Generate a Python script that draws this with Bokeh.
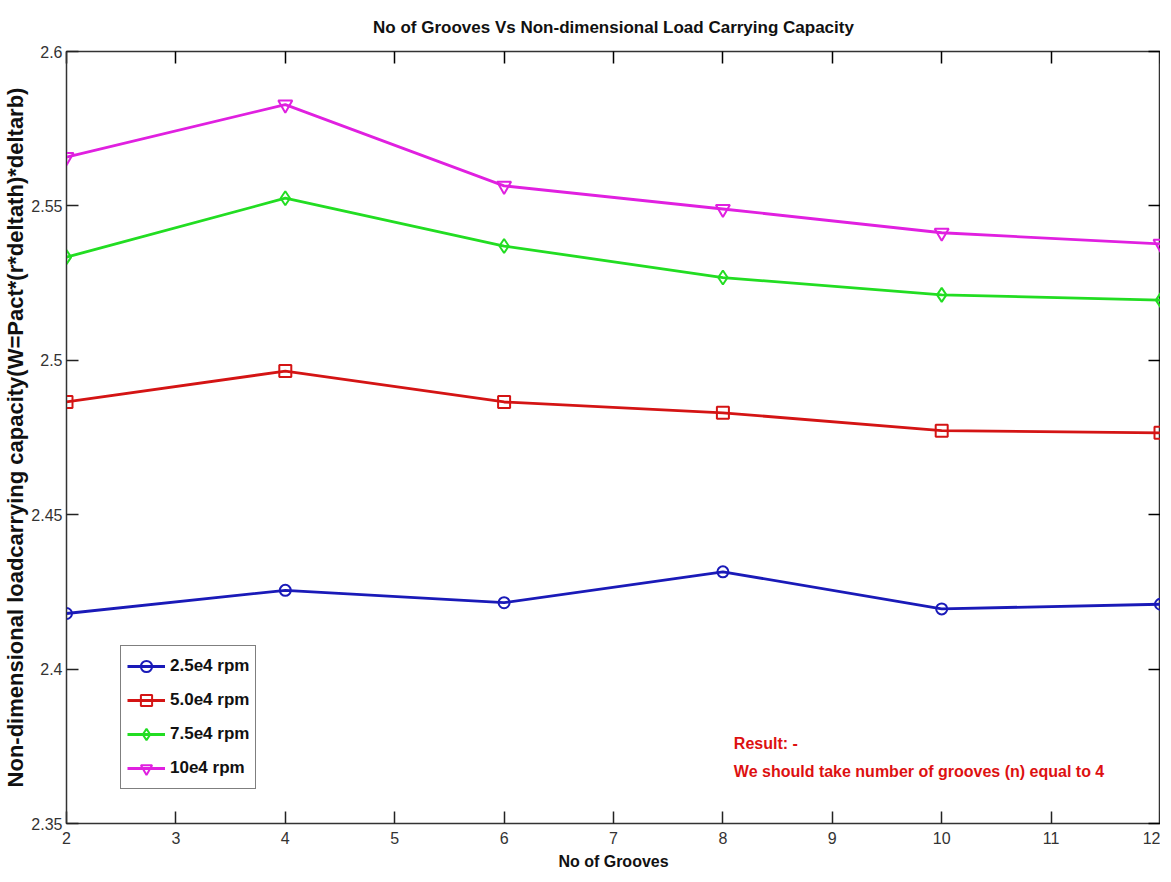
from bokeh.plotting import figure
from bokeh.models import LinearAxis, Legend, LegendItem, Label, FixedTicker, Range1d
from bokeh.embed import file_html
from bokeh.resources import INLINE

grooves = [2, 4, 6, 8, 10, 12]
rpm_25 = [2.418, 2.4255, 2.4215, 2.4315, 2.4195, 2.421]
rpm_50 = [2.4865, 2.4965, 2.4865, 2.483, 2.4772, 2.4765]
rpm_75 = [2.5334, 2.5525, 2.537, 2.5268, 2.5212, 2.5195]
rpm_100 = [2.5658, 2.5828, 2.5565, 2.549, 2.5413, 2.5377]
labels = ["2.5e4 rpm", "5.0e4 rpm", "7.5e4 rpm", "10e4 rpm"]
x_ticks = [2, 3, 4, 5, 6, 7, 8, 9, 10, 11, 12]
y_ticks = [2.35, 2.4, 2.45, 2.5, 2.55, 2.6]

FONT = "Liberation Sans"

p = figure(width=1160, height=872, output_backend="svg", toolbar_location=None,
           x_range=Range1d(2, 12), y_range=Range1d(2.35, 2.6),
           min_border_left=59, min_border_right=0, min_border_top=50, min_border_bottom=43,
           title="No of Grooves Vs Non-dimensional Load Carrying Capacity")
p.title.align = "center"
p.title.text_font = FONT
p.title.text_font_size = "17px"
p.title.text_font_style = "bold"
p.title.text_color = "#111111"
p.title.standoff = 30
p.grid.visible = False
p.outline_line_color = "#333333"
p.outline_line_width = 1.5

for ax in [p.xaxis[0], p.yaxis[0]]:
    ax.major_tick_in = 12
    ax.major_tick_out = 0
    ax.minor_tick_in = 0
    ax.minor_tick_out = 0
    ax.major_label_text_font = FONT
    ax.major_label_text_font_size = "16px"
    ax.major_label_text_color = "#333333"
    ax.axis_line_color = "#333333"
    ax.major_tick_line_color = "#222222"
    ax.major_tick_line_width = 1.5
p.xaxis[0].ticker = FixedTicker(ticks=x_ticks)
p.yaxis[0].ticker = FixedTicker(ticks=y_ticks)
p.xaxis[0].major_label_standoff = 8
p.yaxis[0].major_label_standoff = 4

p.xaxis[0].axis_label = "No of Grooves"
p.xaxis[0].axis_label_text_font = FONT
p.xaxis[0].axis_label_text_font_size = "16px"
p.xaxis[0].axis_label_text_font_style = "bold"
p.xaxis[0].axis_label_text_color = "#111111"
p.xaxis[0].axis_label_standoff = 6
p.yaxis[0].axis_label = "Non-dimensional loadcarrying capacity(W=Pact*(r*deltath)*deltarb)"
p.yaxis[0].axis_label_text_font = FONT
p.yaxis[0].axis_label_text_font_size = "22px"
p.yaxis[0].axis_label_text_font_style = "bold"
p.yaxis[0].axis_label_text_color = "#111111"
p.yaxis[0].axis_label_standoff = 0

top = LinearAxis(ticker=FixedTicker(ticks=x_ticks), major_tick_in=12, major_tick_out=0,
                 minor_tick_in=0, minor_tick_out=0, major_label_text_font_size="1px",
                 major_label_text_color=None, major_label_standoff=0,
                 axis_line_color="#333333", major_tick_line_width=1.5)
right = LinearAxis(ticker=FixedTicker(ticks=y_ticks), major_tick_in=12, major_tick_out=0,
                   minor_tick_in=0, minor_tick_out=0, major_label_text_font_size="1px",
                   major_label_text_color=None, major_label_standoff=0,
                   axis_line_color="#333333", major_tick_line_width=1.5)
p.add_layout(top, "above")
p.add_layout(right, "right")

series = [rpm_25, rpm_50, rpm_75, rpm_100]
colors = ["#1a1ab8", "#d41414", "#22dd22", "#e020e0"]
markers = ["circle", "square", "diamond", "inverted_triangle"]
sizes = [11, 12, 14, 14]
items = []
for ys, c, m, s, lab in zip(series, colors, markers, sizes, labels):
    l = p.line(grooves, ys, line_color=c, line_width=2.8)
    sc = p.scatter(grooves, ys, marker=m, size=s, fill_color=None, line_color=c, line_width=2)
    items.append(LegendItem(label=lab, renderers=[l, sc]))

legend = Legend(items=items, location=(54, 34))
legend.label_text_font = FONT
legend.label_text_font_size = "17px"
legend.label_text_font_style = "bold"
legend.label_text_color = "#111111"
legend.border_line_color = "black"
legend.border_line_width = 1.5
legend.glyph_width = 38
legend.glyph_height = 28
legend.label_height = 28
legend.spacing = 6
legend.padding = 6
legend.margin = 0
legend.label_standoff = 5
p.add_layout(legend, "center")

p.add_layout(Label(x=8.1, y=2.3785, text="Result: -", text_font=FONT, text_font_size="16px",
                   text_font_style="bold", text_color="#dd1111", text_baseline="top"))
p.add_layout(Label(x=8.1, y=2.3695, text="We should take number of grooves (n) equal to 4",
                   text_font=FONT, text_font_size="16px", text_font_style="bold",
                   text_color="#dd1111", text_baseline="top"))

open("out.html", "w").write(file_html(p, INLINE))
